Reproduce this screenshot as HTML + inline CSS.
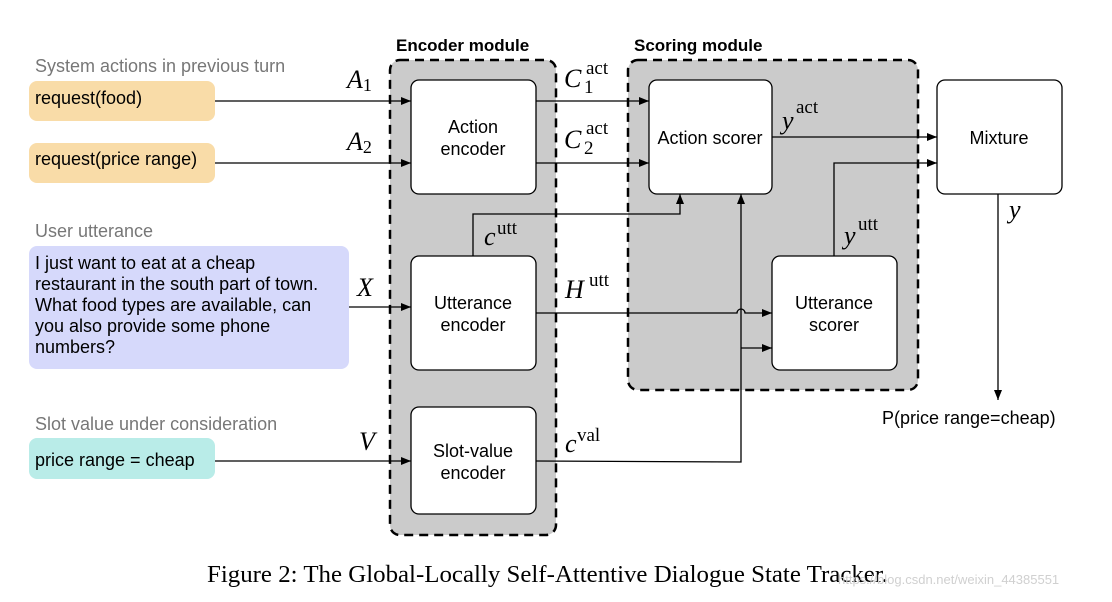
<!DOCTYPE html>
<html><head><meta charset="utf-8"><style>
body{margin:0;background:#fff;width:1112px;height:597px;overflow:hidden}
svg text{font-family:"Liberation Sans",sans-serif}
.m{font-family:"Liberation Serif",serif;font-style:italic;font-size:26px}
.s{font-family:"Liberation Serif",serif;font-size:19px}
</style></head><body>
<svg width="1112" height="597" viewBox="0 0 1112 597">
<defs><marker id="a" markerWidth="10" markerHeight="8" refX="10" refY="4" orient="auto" markerUnits="userSpaceOnUse"><path d="M0,0L10,4L0,8z" fill="#000"/></marker></defs>
<rect x="390" y="60" width="166" height="475" rx="10" fill="#cbcbcb" stroke="#000" stroke-width="2.5" stroke-dasharray="9,6"/>
<rect x="628" y="60" width="290" height="330" rx="10" fill="#cbcbcb" stroke="#000" stroke-width="2.5" stroke-dasharray="9,6"/>
<text x="396" y="51" font-size="17" font-weight="bold">Encoder module</text>
<text x="634" y="51" font-size="17" font-weight="bold">Scoring module</text>
<g font-size="18">
<text x="35" y="72" fill="#777">System actions in previous turn</text>
<rect x="29" y="81" width="186" height="40" rx="8" fill="#f9dca8"/>
<text x="35" y="104">request(food)</text>
<rect x="29" y="143" width="186" height="40" rx="8" fill="#f9dca8"/>
<text x="35" y="165">request(price range)</text>
<text x="35" y="237" fill="#777">User utterance</text>
<rect x="29" y="246" width="320" height="123" rx="8" fill="#d6d9fb"/>
<text x="35" y="269">I just want to eat at a cheap</text>
<text x="35" y="290">restaurant in the south part of town.</text>
<text x="35" y="311">What food types are available, can</text>
<text x="35" y="332">you also provide some phone</text>
<text x="35" y="353">numbers?</text>
<text x="35" y="430" fill="#777">Slot value under consideration</text>
<rect x="29" y="438" width="186" height="41" rx="8" fill="#b9ece8"/>
<text x="35" y="466">price range = cheap</text>
</g>
<g fill="#fff" stroke="#000" stroke-width="1.3">
<rect x="411" y="80" width="125" height="114" rx="8"/>
<rect x="411" y="256" width="125" height="114" rx="8"/>
<rect x="411" y="407" width="125" height="107" rx="8"/>
<rect x="649" y="80" width="123" height="114" rx="8"/>
<rect x="772" y="256" width="125" height="114" rx="8"/>
<rect x="937" y="80" width="125" height="114" rx="8"/>
</g>
<g font-size="18" text-anchor="middle">
<text x="473" y="133">Action</text><text x="473" y="155">encoder</text>
<text x="473" y="309">Utterance</text><text x="473" y="331">encoder</text>
<text x="473" y="457">Slot-value</text><text x="473" y="479">encoder</text>
<text x="710" y="144">Action scorer</text>
<text x="834" y="309">Utterance</text><text x="834" y="331">scorer</text>
<text x="999" y="144">Mixture</text>
</g>
<g stroke="#000" stroke-width="1.3" fill="none">
<path d="M215 101H411" marker-end="url(#a)"/>
<path d="M215 163H411" marker-end="url(#a)"/>
<path d="M349 307H411" marker-end="url(#a)"/>
<path d="M215 461H411" marker-end="url(#a)"/>
<path d="M536 101H649" marker-end="url(#a)"/>
<path d="M536 163H649" marker-end="url(#a)"/>
<path d="M772 137H937" marker-end="url(#a)"/>
<path d="M834 256V163H937" marker-end="url(#a)"/>
<path d="M473 256V214H680V194" marker-end="url(#a)"/>
<path d="M536 313H737A4 4 0 0 1 745 313H772" marker-end="url(#a)"/>
<path d="M536 461L741 462V194" marker-end="url(#a)"/>
<path d="M741 348H772" marker-end="url(#a)"/>
<path d="M998 194V400" marker-end="url(#a)"/>
</g>
<text class="m" x="347" y="88">A<tspan font-size="18" font-style="normal" dy="3">1</tspan></text>
<text class="m" x="347" y="150">A<tspan font-size="18" font-style="normal" dy="3">2</tspan></text>
<text class="m" x="357" y="296">X</text>
<text class="m" x="359" y="450">V</text>
<text class="m" x="564" y="87">C</text><text class="s" x="586" y="74">act</text><text class="s" x="584" y="93">1</text>
<text class="m" x="564" y="148">C</text><text class="s" x="586" y="134">act</text><text class="s" x="584" y="154">2</text>
<text class="m" x="782" y="129">y</text><text class="s" x="796" y="113">act</text>
<text class="m" x="484" y="245">c</text><text class="s" x="497" y="234">utt</text>
<text class="m" x="565" y="298">H</text><text class="s" x="589" y="286">utt</text>
<text class="m" x="565" y="452">c</text><text class="s" x="577" y="441">val</text>
<text class="m" x="844" y="244">y</text><text class="s" x="858" y="230">utt</text>
<text class="m" x="1009" y="218">y</text>
<text x="882" y="424" font-size="18">P(price range=cheap)</text>
<text x="207" y="582" font-size="24" textLength="681" lengthAdjust="spacingAndGlyphs" style="font-family:'Liberation Serif',serif">Figure 2: The Global-Locally Self-Attentive Dialogue State Tracker.</text>
<text x="838" y="584" font-size="13" fill="#d0d0d0">https://blog.csdn.net/weixin_44385551</text>
</svg>
</body></html>
